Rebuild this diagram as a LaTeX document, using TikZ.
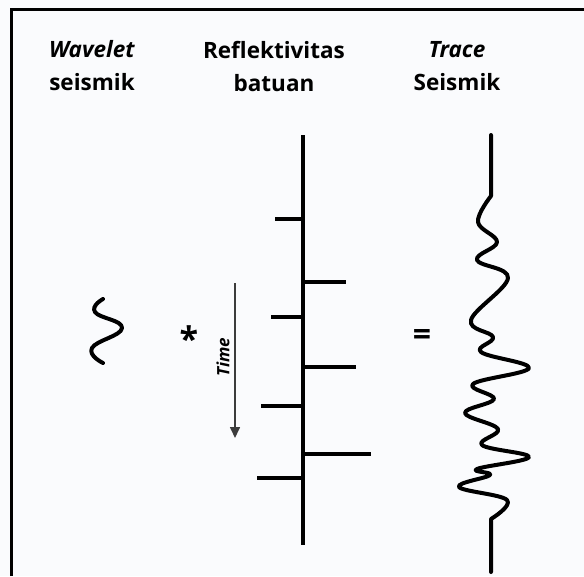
\documentclass[tikz,border=0pt]{standalone}
\usepackage{fontspec}
\setmainfont{Open Sans}
\usetikzlibrary{arrows.meta}
\definecolor{paper}{RGB}{250,251,253}
\definecolor{timegray}{RGB}{60,60,60}
\tikzset{
    title/.style={font=\fontsize{22.5}{33}\selectfont\bfseries, align=center},
    spike/.style={line width=4pt},
    wiggle/.style={line width=4pt, line join=round, line cap=round},
}
\begin{document}
\begin{tikzpicture}[x=1pt,y=-1pt,declare function={ax=303;}]
        \useasboundingbox (0,0) rectangle (584,576);
        \fill[paper] (0,0) rectangle (584,576);
        \draw[line width=3pt] (11,576) -- (11,9) -- (584,9);
        % judul
        \node[title] (wav) at (92,66) {\textit{Wavelet}\\seismik};
        \node[title] (refl) at (274,66) {Reflektivitas\\batuan};
        \node[title] (trc) at (457,66) {\textit{Trace}\\Seismik};
        % wavelet
        \draw[wiggle] plot[smooth, tension=0.8] coordinates {(103,299) (95,312) (122,328) (92,348) (103,363)};
        \node[font=\fontsize{34}{34}\selectfont\bfseries] (star) at (189,339) {*};
        % sumbu waktu
        \coordinate (t0) at (235,283);
        \coordinate (t1) at (235,438);
        \draw[timegray, line width=1.6pt, -{Triangle[length=11pt,width=10pt]}] (t0) -- (t1);
        \node[rotate=90, font=\fontsize{17}{17}\selectfont\bfseries\itshape] (time) at (223,357) {Time};
        % reflektivitas
        \coordinate (A) at (ax,135);
        \coordinate (B) at (ax,545);
        \draw[spike] (A) -- (B);
        \draw[spike] (275,219) -- (ax,219);
        \draw[spike] (ax,282) -- (346,282);
        \draw[spike] (271,317) -- (ax,317);
        \draw[spike] (ax,367) -- (356,367);
        \draw[spike] (261,406) -- (ax,406);
        \draw[spike] (ax,454) -- (371,454);
        \draw[spike] (257,478) -- (ax,478);
        \node[font=\fontsize{32}{32}\selectfont\bfseries] (eq) at (422,337) {=};
        % trace seismik
        \draw[wiggle] (491,135) -- (491,196) plot[smooth, tension=0.65] coordinates {(491,196) (478,222) (497,242) (477,260) (508,278) (471,320) (493,337) (481,352) (529,368) (473,384) (494,399) (465,413) (498,429) (482,445) (529,457) (477,469) (490,475) (459,487) (507,500) (491,519)} -- (491,572);
    \end{tikzpicture}
\end{document}
